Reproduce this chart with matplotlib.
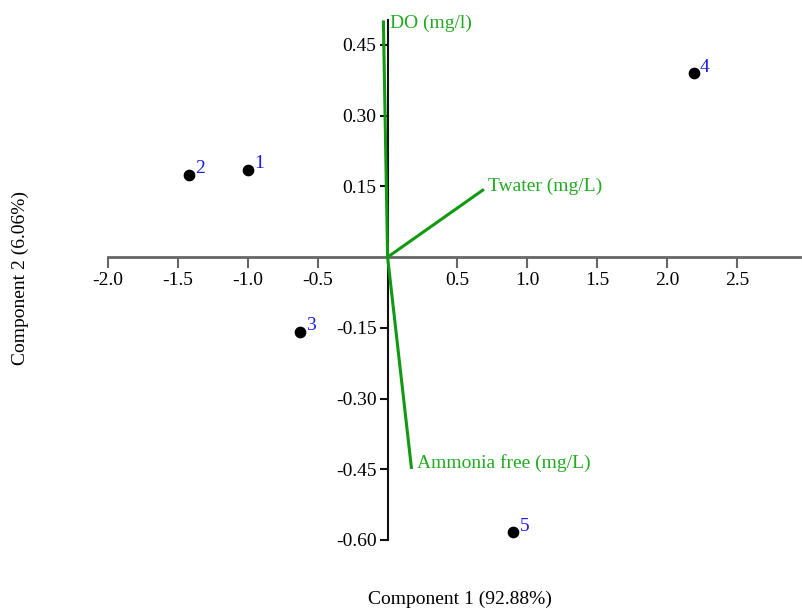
import matplotlib
matplotlib.use("Agg")
import matplotlib.pyplot as plt

# Scores
obs_labels = ["1", "2", "3", "4", "5"]
pc1 = [-1.00, -1.42, -0.63, 2.19, 0.90]
pc2 = [0.185, 0.174, -0.159, 0.390, -0.584]

# Loadings
var_names = ["DO (mg/l)", "Twater (mg/L)", "Ammonia free (mg/L)"]
load1 = [-0.03, 0.68, 0.17]
load2 = [0.499, 0.142, -0.446]

xticks = [-2.0, -1.5, -1.0, -0.5, 0.5, 1.0, 1.5, 2.0, 2.5]
yticks = [0.45, 0.30, 0.15, -0.15, -0.30, -0.45, -0.60]

plt.rcParams['font.family'] = ['Liberation Serif', 'DejaVu Serif']
FS = 14

fig = plt.figure(figsize=(8.02, 6.08), dpi=100)
W, H = 802, 608
left, right, top, bottom = 108, 800, 20, 540
ax = fig.add_axes([left / W, 1 - bottom / H, (right - left) / W, (bottom - top) / H])
ax.set_xlim(-2.0, 2.95)
ax.set_ylim(-0.60, 0.503)

for s in ['top', 'right']:
    ax.spines[s].set_visible(False)
ax.spines['left'].set_position(('data', 0))
ax.spines['bottom'].set_position(('data', 0))
ax.spines['bottom'].set_color('#666666')
ax.spines['bottom'].set_linewidth(2)
ax.spines['left'].set_color('#111111')
ax.spines['left'].set_linewidth(1.5)

ax.set_xticks(xticks)
ax.set_xticklabels([f"{v:.1f}" for v in xticks])
ax.set_yticks(yticks)
ax.set_yticklabels([f"{v:.2f}" for v in yticks])
ax.tick_params(axis='x', direction='out', length=8, width=1.5, color='#666666', labelsize=FS, pad=3)
ax.tick_params(axis='y', direction='out', length=6, width=1.5, color='#111111', labelsize=FS, pad=2)

green_line = '#119911'
green_text = '#22aa22'
offsets = [(4.5, -1), (4, 3), (4, 3)]
for name, lx, ly, off in zip(var_names, load1, load2, offsets):
    ax.plot([0, lx], [0, ly], color=green_line, lw=2.2, zorder=3)
    ax.annotate(name, (lx, ly), xytext=off, textcoords='offset points',
                color=green_text, fontsize=FS, ha='left', va='center')

ax.scatter(pc1, pc2, s=55, color='black', zorder=4)
for lab, x, y in zip(obs_labels, pc1, pc2):
    ax.annotate(lab, (x, y), xytext=(4.5, 4.5), textcoords='offset points',
                color='#1a1aee', fontsize=FS, ha='left', va='center')

fig.text(460 / W, 1 - 599 / H, "Component 1 (92.88%)", ha='center', va='center', fontsize=FS)
fig.text(20 / W, 1 - 278 / H, "Component 2 (6.06%)", ha='center', va='center', fontsize=FS, rotation=90)

fig.savefig("out.png", dpi=100)
